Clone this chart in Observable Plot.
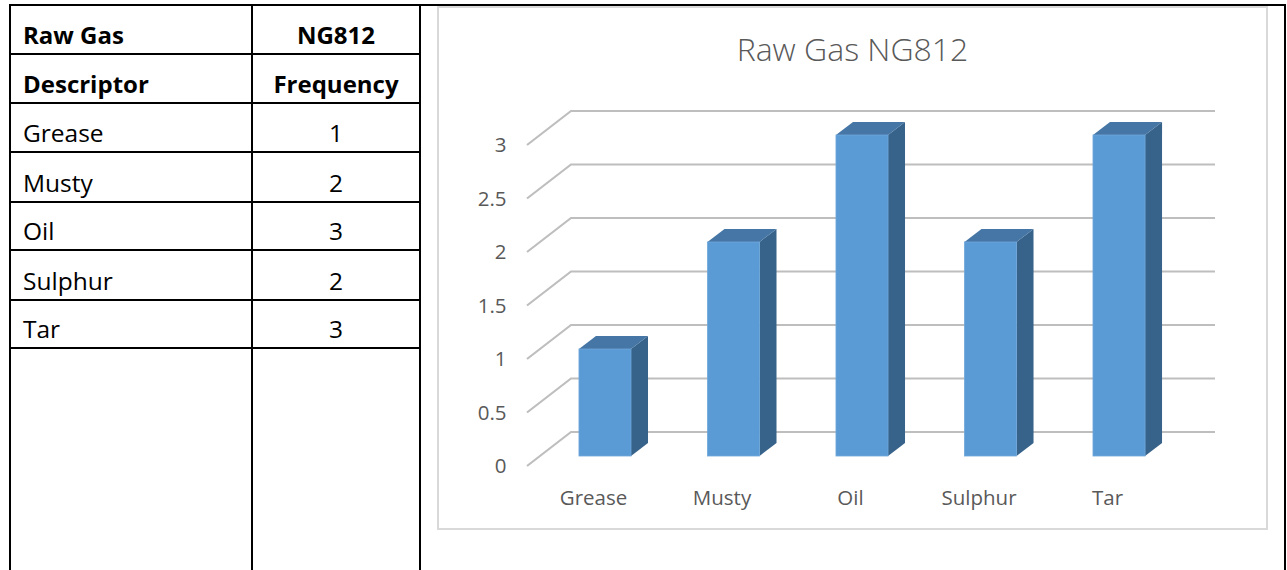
<!DOCTYPE html>
<html>
<head>
<meta charset="utf-8">
<script src="https://cdn.jsdelivr.net/npm/d3@7"></script>
<script src="https://cdn.jsdelivr.net/npm/@observablehq/plot@0.6"></script>
<style>
  html, body { margin: 0; padding: 0; background: #fff; }
  #page { position: relative; width: 1287px; height: 570px; overflow: hidden; background: #fff; font-family: "Open Sans", sans-serif; }
  .hl, .vl { position: absolute; background: #000; }
  .cell { position: absolute; font-size: 24.5px; line-height: 24px; color: #000; white-space: nowrap; }
  .bold { font-weight: 700; font-size: 24px; }
  #chartbox { position: absolute; left: 437px; top: 6px; width: 831px; height: 524px; border: 2px solid #D9D9D9; box-sizing: border-box; }
  #title { position: absolute; left: 437px; top: 33px; width: 831px; text-align: center; font-family: "Open Sans", sans-serif; font-weight: 300; font-size: 32px; line-height: 32px; color: #595959; }
  #plot { position: absolute; left: 437px; top: 90px; width: 831px; height: 440px; }
</style>
</head>
<body>
<div id="page">
  <div id="chartbox"></div>
  <div id="title"></div>
  <div id="plot"></div>
</div>
<script>
// ---- data ----
const chartTitle = "Raw Gas NG812";
const categories = ["Grease", "Musty", "Oil", "Sulphur", "Tar"];
const frequency = [1, 2, 3, 2, 3];
const yTicks = [0, 0.5, 1, 1.5, 2, 2.5, 3];
const headerRow1 = ["Raw Gas", "NG812"];
const headerRow2 = ["Descriptor", "Frequency"];

const page = document.getElementById("page");

// ---- table (document layout) ----
const rowLines = [5, 54, 103, 152, 202, 250, 300, 348];
const colLeft = 10, colMid = 252, colRight = 420, outerRight = 1285;
rowLines.forEach((y, i) => {
  const d = document.createElement("div");
  d.className = "hl";
  d.style.left = (colLeft - 1) + "px";
  d.style.top = (y - 1) + "px";
  d.style.height = "2px";
  d.style.width = ((i === 0 ? outerRight + 1 : colRight + 1) - (colLeft - 1)) + "px";
  page.appendChild(d);
});
[colLeft, colMid, colRight, outerRight].forEach(x => {
  const d = document.createElement("div");
  d.className = "vl";
  d.style.left = (x - 1) + "px";
  d.style.top = "4px";
  d.style.width = "2px";
  d.style.height = "570px";
  page.appendChild(d);
});
const tableRows = [headerRow1, headerRow2, ...categories.map((c, i) => [c, String(frequency[i])])];
tableRows.forEach((row, i) => {
  const baseline = rowLines[i + 1] - 10;
  const bold = i < 2;
  const a = document.createElement("div");
  a.className = "cell" + (bold ? " bold" : "");
  a.textContent = row[0];
  a.style.left = "23px";
  a.style.top = (baseline - 21) + "px";
  page.appendChild(a);
  const b = document.createElement("div");
  b.className = "cell" + (bold ? " bold" : "");
  b.textContent = row[1];
  b.style.left = colMid + "px";
  b.style.width = (colRight - colMid) + "px";
  b.style.textAlign = "center";
  b.style.top = (baseline - 21) + "px";
  page.appendChild(b);
});

document.getElementById("title").textContent = chartTitle;

// ---- chart ----
const data = categories.map((c, i) => ({category: c, value: frequency[i]}));
const W = 831, H = 440, mL = 65.5, mR = 46.5, mT = 45, mB = 74;
const pad = 0.595;
const depthX = 17, depthY = 13;

function gridMark(index, scales, values, dims) {
  const y = scales.y;
  const g = d3.create("svg:g");
  const xf = dims.marginLeft + 24.5, xb = dims.marginLeft + 68.5, xr = dims.width - dims.marginRight - 6.5;
  for (const v of yTicks) {
    const yf = y(v) + 10, yb = y(v) - 24;
    g.append("polyline")
      .attr("points", `${xf},${yf} ${xb},${yb} ${xr},${yb}`)
      .attr("fill", "none")
      .attr("stroke", "#BEBEBE")
      .attr("stroke-width", 2.2)
      .attr("stroke-linejoin", "miter");
  }
  return g.node();
}

function bar3dMark(index, scales, values, dims) {
  const x = scales.x, y = scales.y;
  let bw = typeof x.bandwidth === "function" ? x.bandwidth() : x.bandwidth;
  if (!(bw > 0)) bw = (x(categories[1]) - x(categories[0])) * (1 - pad);
  const g = d3.create("svg:g");
  for (const d of data) {
    const x0 = x(d.category), x1 = x0 + bw;
    const yt = y(d.value), y0 = y(0);
    // side face
    g.append("polygon")
      .attr("points", `${x1},${yt} ${x1 + depthX},${yt - depthY} ${x1 + depthX},${y0 - depthY} ${x1},${y0}`)
      .attr("fill", "#37628A");
    // top face
    g.append("polygon")
      .attr("points", `${x0},${yt} ${x0 + depthX},${yt - depthY} ${x1 + depthX},${yt - depthY} ${x1},${yt}`)
      .attr("fill", "#4576A5");
  }
  return g.node();
}

const plot = Plot.plot({
  width: W,
  height: H,
  marginLeft: mL,
  marginRight: mR,
  marginTop: mT,
  marginBottom: mB,
  style: {background: "transparent", color: "#595959", fontFamily: "Open Sans, sans-serif", fontSize: "20.5px", overflow: "visible"},
  x: {type: "band", domain: categories, padding: pad, round: false, label: null},
  y: {domain: [0, 3], label: null},
  marks: [
    gridMark,
    bar3dMark,
    Plot.barY(data, {x: "category", y: "value", fill: "#5B9BD5", stroke: "#6FA7DA", strokeWidth: 0.8}),
    Plot.axisY(yTicks, {tickSize: 0, tickPadding: 0, dx: 3.5, dy: 10, tickFormat: d => String(d), fontSize: 20.5, label: null}),
    Plot.axisX({tickSize: 0, tickPadding: 0, dx: -12, dy: 34, fontSize: 20.5, label: null})
  ]
});
document.getElementById("plot").appendChild(plot);
</script>
</body>
</html>
